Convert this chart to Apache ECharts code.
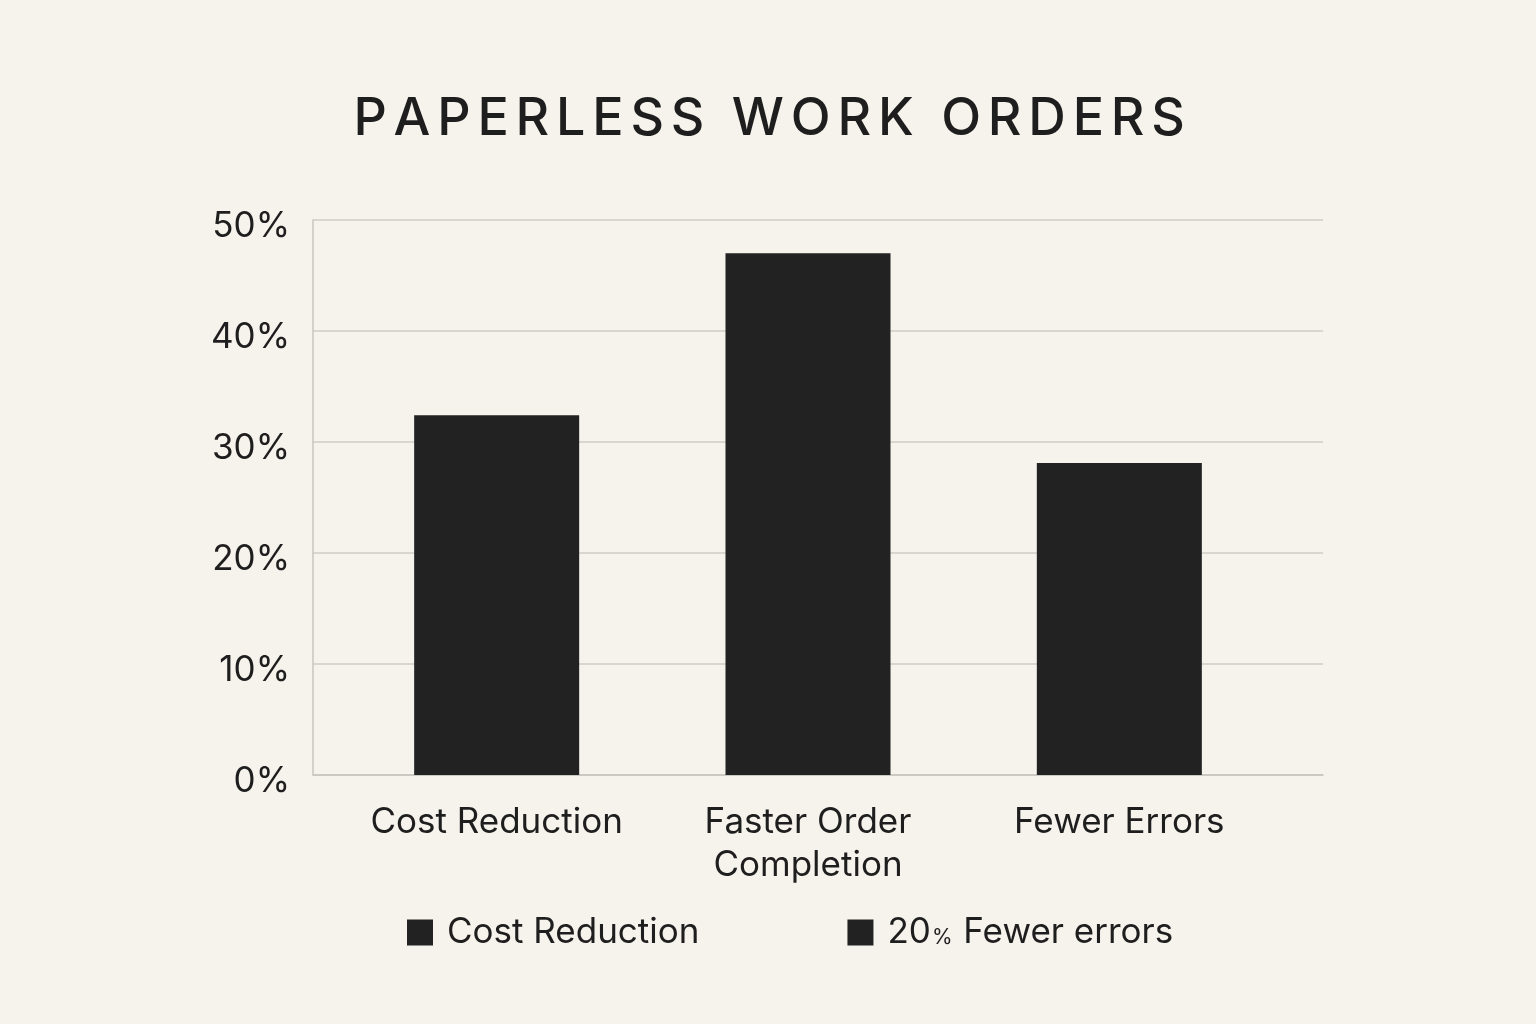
<!DOCTYPE html>
<html>
<head>
<meta charset="utf-8">
<script src="https://cdn.jsdelivr.net/npm/echarts@6/dist/echarts.min.js"></script>
<style>
html,body{margin:0;padding:0;background:#f6f2ec;}
#c{width:1536px;height:1024px;}
</style>
</head>
<body>
<div id="c"></div>
<script>
var titleText = 'PAPERLESS WORK ORDERS';
var categories = ['Cost Reduction', 'Faster Order\nCompletion', 'Fewer Errors'];
var values = [32.4, 47.0, 28.1];
var legendNames = ['Cost Reduction', '20% Fewer errors'];
var yTicks = { min: 0, max: 50, interval: 10 };

var chart = echarts.init(document.getElementById('c'));
var font = 'Inter, "Noto Sans", sans-serif';
var ink = '#1e1e1e';
var spacedTitle = titleText.split('').map(function (ch) { return '{l|' + ch + '}'; }).join('');

chart.setOption({
  backgroundColor: '#f6f2ec',
  animation: false,
  title: {
    text: spacedTitle,
    left: 345,
    top: 88,
    textStyle: {
      fontFamily: font, fontSize: 52, fontWeight: 500, color: ink,
      rich: { l: { fontFamily: font, fontSize: 52, fontWeight: 500, color: ink, padding: [0, 3.4, 0, 3.4] } }
    }
  },
  legend: {
    data: legendNames,
    top: 910,
    left: 402,
    itemWidth: 26,
    itemHeight: 26,
    itemGap: 148,
    icon: 'rect',
    textStyle: {
      fontFamily: font, fontSize: 35, color: ink, padding: [0, 0, 0, 9],
      rich: { p: { fontFamily: font, fontSize: 21, color: ink, verticalAlign: 'bottom', padding: [0, 1, 2, 1] } }
    },
    formatter: function (n) {
      return n.replace('%', '{p|%}');
    }
  },
  grid: [
    { left: 313, right: 213, top: 220, bottom: 249 },
    { left: 341, right: 261, top: 220, bottom: 249 }
  ],
  xAxis: [
    {
      gridIndex: 0, type: 'category', data: categories,
      axisLine: { show: true, lineStyle: { color: '#c8c4bf', width: 1.5 } },
      axisTick: { show: false }, axisLabel: { show: false }, splitLine: { show: false }
    },
    {
      gridIndex: 1, type: 'category', data: categories,
      axisLine: { show: false }, axisTick: { show: false }, splitLine: { show: false },
      axisLabel: { interval: 0, hideOverlap: false, fontFamily: font, fontSize: 35, color: ink, margin: 26, lineHeight: 43 }
    }
  ],
  yAxis: [
    {
      gridIndex: 0, type: 'value',
      min: yTicks.min, max: yTicks.max, interval: yTicks.interval,
      axisLine: { show: true, lineStyle: { color: '#c8c4bf', width: 1.5 } },
      axisTick: { show: false },
      splitLine: { lineStyle: { color: '#cfcbc6', width: 1.5 } },
      axisLabel: {
        fontFamily: font, fontSize: 35, color: ink, margin: 23,
        formatter: function (v) { return '{v|' + v + '%}'; },
        rich: { v: { fontFamily: font, fontSize: 35, color: ink, padding: [13, 0, 0, 0] } }
      }
    },
    {
      gridIndex: 1, type: 'value',
      min: yTicks.min, max: yTicks.max, interval: yTicks.interval,
      show: false
    }
  ],
  series: [
    {
      name: legendNames[0], type: 'bar', stack: 's', data: values,
      xAxisIndex: 1, yAxisIndex: 1,
      barWidth: 165, itemStyle: { color: '#222222' }
    },
    {
      name: legendNames[1], type: 'bar', stack: 's', data: [],
      xAxisIndex: 1, yAxisIndex: 1,
      itemStyle: { color: '#222222' }
    }
  ]
});
</script>
</body>
</html>
